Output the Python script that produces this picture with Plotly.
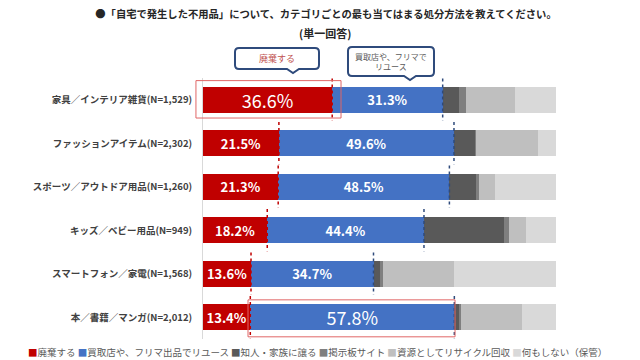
import plotly.graph_objects as go

# ---------------- data ----------------
categories = [
    "家具／インテリア雑貨(N=1,529)",
    "ファッションアイテム(N=2,302)",
    "スポーツ／アウトドア用品(N=1,260)",
    "キッズ／ベビー用品(N=949)",
    "スマートフォン／家電(N=1,568)",
    "本／書籍／マンガ(N=2,012)",
]
series_names = [
    "廃棄する",
    "買取店や、フリマ出品でリユース",
    "知人・家族に譲る",
    "掲示板サイト",
    "資源としてリサイクル回収",
    "何もしない（保管）",
]
discard = [36.6, 21.5, 21.3, 18.2, 13.6, 13.4]
reuse = [31.3, 49.6, 48.5, 44.4, 34.7, 57.8]
give = [4.5, 6.0, 7.4, 22.7, 1.9, 1.3]
board = [2.0, 0.3, 1.0, 1.3, 0.9, 0.7]
recycle = [13.9, 17.5, 4.6, 5.0, 20.0, 17.3]
nothing = [11.7, 5.1, 17.2, 8.4, 28.9, 9.5]

title_text = "●「自宅で発生した不用品」について、カテゴリごとの最も当てはまる処分方法を教えてください。"
subtitle_text = "(単一回答)"
callout1_text = "廃棄する"
callout2_text = "買取店や、フリマで<br>リユース"

colors = ["#C00000", "#4472C4", "#595959", "#7F7F7F", "#BFBFBF", "#D9D9D9"]
values = [discard, reuse, give, board, recycle, nothing]

FONT = "Noto Sans CJK JP"
W, H = 640, 360
ML, MR, MT, MB = 203, 84, 78, 21
PW, PH = W - ML - MR, H - MT - MB
n = len(categories)

fig = go.Figure()
highlight = {(0, 0), (1, 5)}  # (series index, row index) with big label
for si, (name, vals, col) in enumerate(zip(series_names, values, colors)):
    labeled = si < 2
    sizes = [18 if (si, ri) in highlight else 13 for ri in range(n)]
    fig.add_trace(go.Bar(
        name=name, y=categories, x=vals, orientation="h",
        marker=dict(color=col, line=dict(width=0)),
        width=0.6,
        text=[f"{v:.1f}%" for v in vals] if labeled else None,
        textposition="inside" if labeled else "none",
        insidetextanchor="middle",
        textangle=0,
        constraintext="none",
        textfont=dict(color="white", size=sizes, family=FONT,
                      weight=[400 if (si, ri) in highlight else 700 for ri in range(n)]),
        showlegend=False,
        hoverinfo="skip",
    ))

# coordinate helpers (data -> paper)
def xp(v):
    return v / 100.0

def yp(v):
    return (n - 0.5 - v) / n

def pxx(px):
    return (px - ML) / PW

def pxy(py):
    return (MT + PH - py) / PH

shapes = []
# dotted boundary markers
for i in range(n):
    r_end = discard[i]
    b_end = discard[i] + reuse[i]
    shapes.append(dict(type="line", xref="paper", yref="paper",
                       x0=xp(r_end), x1=xp(r_end), y0=yp(i - 0.49), y1=yp(i + 0.48),
                       line=dict(color="#C00000", width=1.5, dash="dot"), layer="above"))
    shapes.append(dict(type="line", xref="paper", yref="paper",
                       x0=xp(b_end), x1=xp(b_end), y0=yp(i - 0.49), y1=yp(i + 0.48),
                       line=dict(color="#2F4B7C", width=1.5, dash="dot"), layer="above"))

# highlight boxes
shapes.append(dict(type="rect", xref="paper", yref="paper",
                   x0=xp(-2.0), x1=xp(discard[0] + 2.5), y0=yp(0 - 0.44), y1=yp(0 + 0.42),
                   line=dict(color="#E06666", width=1), fillcolor="rgba(0,0,0,0)", layer="above"))
shapes.append(dict(type="rect", xref="paper", yref="paper",
                   x0=xp(discard[5] - 0.65), x1=xp(discard[5] + reuse[5] + 0.2),
                   y0=yp(5 - 0.40), y1=yp(5 + 0.45),
                   line=dict(color="#E06666", width=1), fillcolor="rgba(0,0,0,0)", layer="above"))


def bubble(x0, x1, y0, y1, tip, r=4, nw=6, nh=4):
    pts = []
    def P(cmd, *coords):
        s = cmd
        for (a, b) in coords:
            s += f" {pxx(a):.5f},{pxy(b):.5f}"
        pts.append(s)
    P("M", (x0 + r, y0))
    P("L", (x1 - r, y0))
    P("Q", (x1, y0), (x1, y0 + r))
    P("L", (x1, y1 - r))
    P("Q", (x1, y1), (x1 - r, y1))
    P("L", (tip + nw, y1))
    P("L", (tip, y1 + nh))
    P("L", (tip - nw, y1))
    P("L", (x0 + r, y1))
    P("Q", (x0, y1), (x0, y1 - r))
    P("L", (x0, y0 + r))
    P("Q", (x0, y0), (x0 + r, y0))
    return " ".join(pts) + " Z"

shapes.append(dict(type="path", xref="paper", yref="paper", path=bubble(235, 319, 48, 69, 293),
                   line=dict(color="#2F4B7C", width=2), fillcolor="white", layer="above"))
shapes.append(dict(type="path", xref="paper", yref="paper", path=bubble(348, 434, 47, 76, 410),
                   line=dict(color="#2F4B7C", width=2), fillcolor="white", layer="above"))

legend_html = "&nbsp;".join(
    f"<span style='color:{c}'>■</span>{nm}" for nm, c in zip(series_names, colors)
)

annotations = [
    dict(text=subtitle_text, xref="paper", yref="paper", x=pxx(325), y=pxy(33),
         xanchor="center", yanchor="middle",
         showarrow=False, font=dict(size=11, color="#262626", family=FONT, weight=700)),
    dict(text=callout1_text, xref="paper", yref="paper", x=pxx(277), y=pxy(58.5),
         xanchor="center", yanchor="middle",
         showarrow=False, font=dict(size=9, color="#C0504D", family=FONT)),
    dict(text=callout2_text, xref="paper", yref="paper", x=pxx(391), y=pxy(61.5),
         xanchor="center", yanchor="middle",
         showarrow=False, font=dict(size=8, color="#595959", family=FONT)),
    dict(text=legend_html, xref="paper", yref="paper", x=pxx(317.5), y=pxy(352),
         xanchor="center", yanchor="middle",
         showarrow=False, font=dict(size=9.5, color="#595959", family=FONT)),
]

fig.update_layout(
    width=W, height=H,
    barmode="stack",
    bargap=0.4,
    margin=dict(l=ML, r=MR, t=MT, b=MB, pad=0),
    paper_bgcolor="white", plot_bgcolor="white",
    font=dict(family=FONT, color="#404040"),
    title=dict(text=title_text, x=326 / W, xanchor="center", y=1 - 14 / H, yanchor="middle",
               font=dict(size=10.3, color="#262626", family=FONT, weight=700)),
    xaxis=dict(range=[0, 100], visible=False, fixedrange=True),
    yaxis=dict(range=[n - 0.5, -0.5], showgrid=False, showline=True, linecolor="#D9D9D9",
               linewidth=1, ticks="", ticklabelstandoff=8, fixedrange=True,
               tickfont=dict(size=9.5, color="#404040", family=FONT, weight=700)),
    shapes=shapes,
    annotations=annotations,
    showlegend=False,
)

fig.write_html(
    "out.html",
    config={"displayModeBar": False, "staticPlot": True},
    post_script="document.body.style.margin='0';document.body.style.padding='0';document.body.style.overflow='hidden';",
)
